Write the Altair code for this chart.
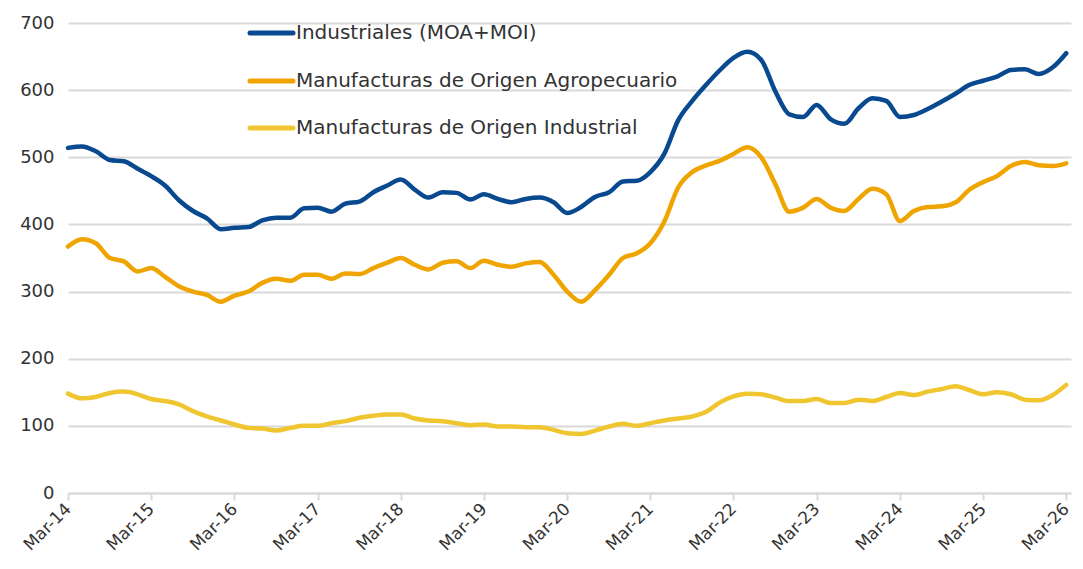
import altair as alt
import pandas as pd

# ---- data (every 2 months from Mar-14 to Mar-26) ----
series_names = [
    "Industriales (MOA+MOI)",
    "Manufacturas de Origen Agropecuario",
    "Manufacturas de Origen Industrial",
]
colors = ["#08498F", "#EFA400", "#F0C630"]

industriales = [
    514, 516, 509, 496, 494, 483, 472, 458, 436, 420, 409, 393, 395, 396, 406, 410,
    410, 424, 425, 419, 431, 434, 448, 458, 467, 452, 440, 448, 447, 437, 445, 438,
    433, 438, 440, 433, 417, 426, 441, 448, 464, 465, 478, 505, 555, 584, 608, 630,
    648, 657, 645, 598, 564, 560, 578, 557, 550, 573, 588, 584, 560, 563, 572, 583,
    595, 608, 614, 620, 630, 631, 624, 634, 655,
]
moa = [
    367, 378, 372, 350, 345, 330, 335, 322, 308, 300, 295, 285, 294, 300, 313, 319,
    316, 325, 325, 319, 327, 326, 335, 343, 350, 340, 333, 343, 345, 335, 346, 340,
    337, 342, 344, 325, 300, 285, 302, 325, 350, 357, 372, 404, 455, 478, 488, 495,
    505, 515, 500, 460, 419, 425, 438, 425, 420, 438, 453, 445, 405, 420, 426, 427,
    433, 452, 463, 472, 487, 493, 488, 487, 491,
]
moi = [
    148, 141, 143, 149, 151, 147, 140, 137, 132, 122, 114, 108, 102, 97, 96, 93,
    97, 100, 100, 104, 107, 112, 115, 117, 117, 111, 108, 107, 104, 101, 102, 99,
    99, 98, 98, 94, 89, 88, 93, 99, 103, 100, 104, 108, 111, 114, 121, 135,
    144, 148, 147, 142, 137, 137, 140, 134, 134, 139, 137, 143, 149, 146, 151, 155,
    159, 153, 147, 150, 147, 139, 138, 146, 161,
]
fechas = pd.date_range(start="2014-03-01", periods=len(industriales), freq="2MS")
tick_years = list(range(2014, 2027))

rows = []
for name, vals in zip(series_names, [industriales, moa, moi]):
    for f, v in zip(fechas, vals):
        rows.append({"fecha": f, "serie": name, "valor": v})
df = pd.DataFrame(rows)

FONT = "DejaVu Sans"
GRID = "#d9d9d9"

color_scale = alt.Scale(domain=series_names, range=colors)

x_enc = alt.X(
    "fecha:T",
    scale=alt.Scale(domain=[alt.DateTime(year=2014, month=3, date=1),
                            alt.DateTime(year=2026, month=3, date=22)]),
    axis=alt.Axis(
        title=None,
        values=[alt.DateTime(year=y, month=3, date=1) for y in tick_years],
        format="%b-%y",
        labelAngle=-45,
        labelAlign="right",
        labelBaseline="middle",
        labelFontSize=17,
        labelColor="#333333",
        labelFont=FONT,
        labelPadding=6,
        labelOverlap=False,
        domainColor=GRID,
        domainWidth=2,
        tickColor=GRID,
        tickWidth=2,
        tickSize=7,
        grid=False,
    ),
)
y_enc = alt.Y(
    "valor:Q",
    scale=alt.Scale(domain=[0, 700], nice=False),
    axis=alt.Axis(
        title=None,
        values=[0, 100, 200, 300, 400, 500, 600, 700],
        labelFontSize=18,
        labelColor="#333333",
        labelFont=FONT,
        labelPadding=14,
        ticks=False,
        domain=False,
        grid=True,
        gridColor=GRID,
        gridWidth=2,
    ),
)

lines = alt.Chart(df).mark_line(
    strokeWidth=4.5, interpolate="monotone", strokeCap="round", strokeJoin="round"
).encode(
    x=x_enc,
    y=y_enc,
    color=alt.Color("serie:N", scale=color_scale, legend=None),
    detail="serie:N",
)

# manual legend (layout constants only)
legend_rows = [10, 58, 105]
legend_layers = []
for name, ypos in zip(series_names, legend_rows):
    ldf = pd.DataFrame({"serie": [name]})
    legend_layers.append(
        alt.Chart(ldf).mark_rule(strokeWidth=5, strokeCap="round").encode(
            x=alt.value(182), x2=alt.value(225), y=alt.value(ypos),
            color=alt.Color("serie:N", scale=color_scale, legend=None),
        )
    )
    legend_layers.append(
        alt.Chart(ldf).mark_text(
            align="left", baseline="middle", fontSize=20, font=FONT, color="#333333"
        ).encode(x=alt.value(228), y=alt.value(ypos), text="serie:N")
    )

chart = alt.layer(lines, *legend_layers).properties(
    width=1003,
    height=470,
    padding={"left": 60, "top": 15, "right": 4, "bottom": 68},
    autosize=alt.AutoSizeParams(type="none"),
).configure_view(stroke=None)

chart.save("out.html", embed_options={"renderer": "svg", "actions": False})
